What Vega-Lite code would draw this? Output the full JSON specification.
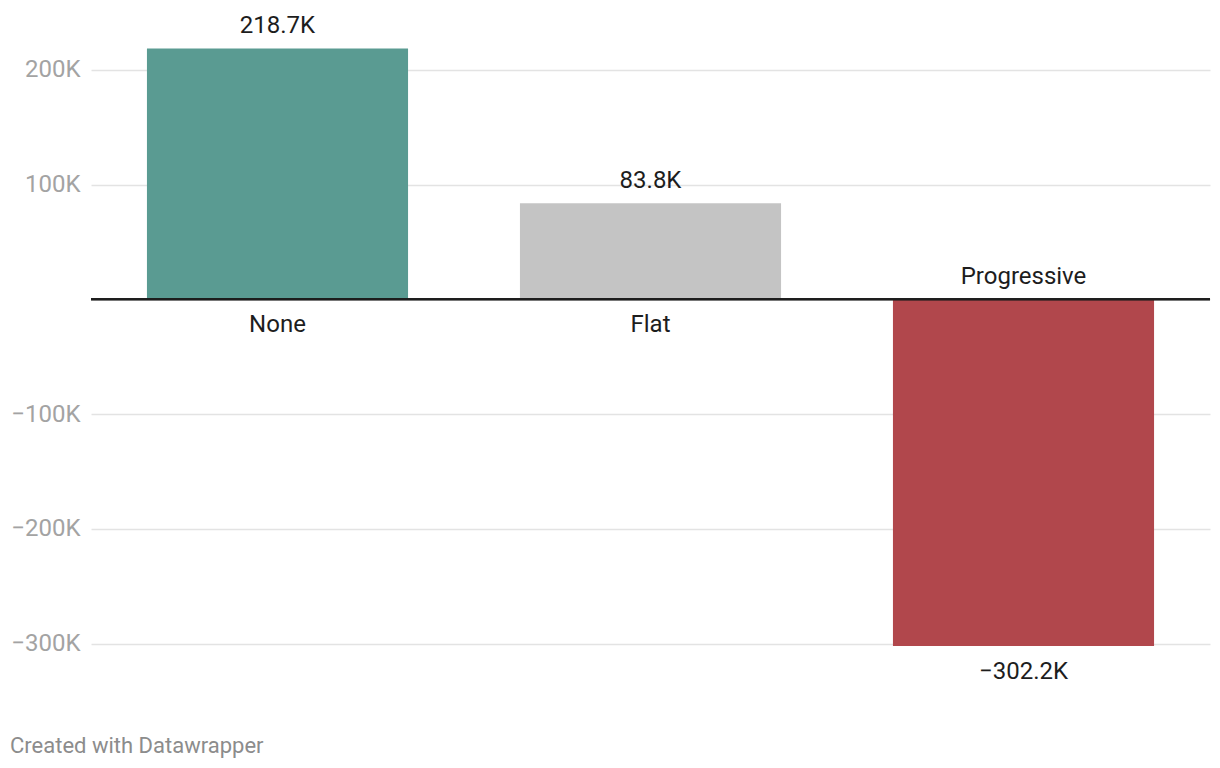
{
  "$schema": "https://vega.github.io/schema/vega-lite/v6.json",
  "width": 1119,
  "height": 654,
  "autosize": "none",
  "padding": {"left": 91, "top": 1, "right": 10, "bottom": 113},
  "background": "#ffffff",
  "config": {
    "font": "Roboto",
    "view": {"stroke": null}
  },
  "title": {
    "text": "Created with Datawrapper",
    "orient": "bottom",
    "anchor": "start",
    "frame": "group",
    "dx": -81,
    "offset": 52,
    "fontSize": 22,
    "fontWeight": "normal",
    "color": "#8c8c8c",
    "font": "Roboto"
  },
  "data": {
    "values": [
      {"category": "None", "value": 218700, "label": "218.7K"},
      {"category": "Flat", "value": 83800, "label": "83.8K"},
      {"category": "Progressive", "value": -302200, "label": "−302.2K"}
    ]
  },
  "encoding": {
    "x": {
      "field": "category",
      "type": "nominal",
      "sort": ["None", "Flat", "Progressive"],
      "scale": {"paddingInner": 0.3, "paddingOuter": 0.15},
      "axis": null
    }
  },
  "layer": [
    {
      "mark": {"type": "bar"},
      "encoding": {
        "y": {
          "field": "value",
          "type": "quantitative",
          "scale": {"domain": [-310000, 260000], "nice": false, "zero": true},
          "axis": {
            "values": [-300000, -200000, -100000, 0, 100000, 200000],
            "title": null,
            "domain": false,
            "ticks": false,
            "grid": true,
            "gridColor": "#e3e3e3",
            "gridWidth": 1.5,
            "labelPadding": 11,
            "labelFontSize": 24,
            "labelColor": "#a3a3a3",
            "labelFont": "Roboto",
            "labelExpr": "datum.value == 0 ? '' : replace(format(datum.value / 1000, 'd'), '-', '−') + 'K'"
          }
        },
        "color": {
          "field": "category",
          "type": "nominal",
          "scale": {"domain": ["None", "Flat", "Progressive"], "range": ["#5a9b92", "#c4c4c4", "#b1474c"]},
          "legend": null
        }
      }
    },
    {
      "mark": {"type": "rule", "color": "#1d1d1d", "strokeWidth": 2},
      "encoding": {"y": {"datum": 0}, "x": {"value": 0}, "x2": {"value": 1119}}
    },
    {
      "transform": [{"filter": "datum.value >= 0"}],
      "mark": {"type": "text", "baseline": "middle", "dy": -22, "fontSize": 24, "color": "#1d1d1d"},
      "encoding": {"y": {"field": "value", "type": "quantitative"}, "text": {"field": "label"}}
    },
    {
      "transform": [{"filter": "datum.value < 0"}],
      "mark": {"type": "text", "baseline": "middle", "dy": 26, "fontSize": 24, "color": "#1d1d1d"},
      "encoding": {"y": {"field": "value", "type": "quantitative"}, "text": {"field": "label"}}
    },
    {
      "transform": [{"filter": "datum.value >= 0"}],
      "mark": {"type": "text", "baseline": "middle", "dy": 25.5, "fontSize": 24, "color": "#1d1d1d"},
      "encoding": {"y": {"datum": 0}, "text": {"field": "category"}}
    },
    {
      "transform": [{"filter": "datum.value < 0"}],
      "mark": {"type": "text", "baseline": "middle", "dy": -22, "fontSize": 24, "color": "#1d1d1d"},
      "encoding": {"y": {"datum": 0}, "text": {"field": "category"}}
    }
  ]
}
